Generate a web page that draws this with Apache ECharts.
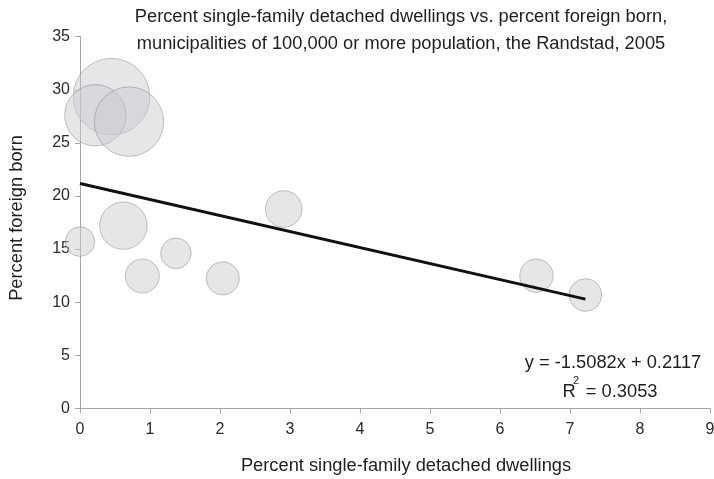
<!DOCTYPE html>
<html>
<head>
<meta charset="utf-8">
<script src="https://cdn.jsdelivr.net/npm/echarts@6/dist/echarts.min.js"></script>
<style>
html,body{margin:0;padding:0;background:#fff;}
#chart{width:714px;height:479px;}
</style>
</head>
<body>
<div id="chart"></div>
<script>
// Data
const pctDetached   = [0.45, 0.22, 0.70, 0.00, 0.62, 0.89, 1.37, 2.04, 2.91, 6.52, 7.22];
const pctForeign    = [29.35, 27.6, 27.0, 15.7, 17.2, 12.46, 14.6, 12.24, 18.77, 12.49, 10.67];
const population    = [743, 477, 610, 111, 285, 146, 119, 138, 170, 141, 135]; // thousands (bubble area)
const trendSlope    = [-1.5082];
const trendIntercept= [21.17];
const xTicks = [0, 1, 2, 3, 4, 5, 6, 7, 8, 9];
const yTicks = [0, 5, 10, 15, 20, 25, 30, 35];
const titleLines = ['Percent single-family detached dwellings vs. percent foreign born,',
                    'municipalities of 100,000 or more population, the Randstad, 2005'];
const xName = 'Percent single-family detached dwellings';
const yName = 'Percent foreign born';
const eqText = 'y = -1.5082x + 0.2117';
const r2Value = '0.3053';

const FONT = '"Liberation Sans", Arial, sans-serif';
const maxPop = Math.max(...population);
const maxDiam = 76.6;

const points = pctDetached.map((x, i) => [x, pctForeign[i], population[i]]);
const xMin = Math.min(...pctDetached), xMax = Math.max(...pctDetached);
const trend = [xMin, xMax].map(x => [x, trendSlope[0] * x + trendIntercept[0]]);

const chart = echarts.init(document.getElementById('chart'), null, {renderer: 'canvas'});
chart.setOption({
  animation: false,
  backgroundColor: '#ffffff',
  textStyle: {fontFamily: FONT},
  title: {
    text: titleLines.join('\n'),
    left: 401, top: 3, textAlign: 'center', padding: 0,
    textStyle: {fontFamily: FONT, fontSize: 18.3, fontWeight: 'normal', color: '#1e1e1e', lineHeight: 27}
  },
  grid: {left: 80, right: 4, top: 36.7, bottom: 70.7, containLabel: false, outerBoundsMode: 'none'},
  xAxis: {
    type: 'value', min: xTicks[0], max: xTicks[xTicks.length - 1], interval: 1,
    axisLine: {show: true, onZero: false, lineStyle: {color: '#a6a6a6', width: 1}},
    axisTick: {show: true, length: 5, lineStyle: {color: '#a6a6a6'}},
    splitLine: {show: false},
    axisLabel: {fontFamily: FONT, fontSize: 16, color: '#2a2a2a', margin: 13}
  },
  yAxis: {
    type: 'value', min: yTicks[0], max: yTicks[yTicks.length - 1], interval: 5,
    axisLine: {show: true, onZero: false, lineStyle: {color: '#a6a6a6', width: 1}},
    axisTick: {show: true, length: 5, lineStyle: {color: '#a6a6a6'}},
    splitLine: {show: false},
    axisLabel: {fontFamily: FONT, fontSize: 16, color: '#2a2a2a', margin: 10}
  },
  series: [
    {
      type: 'scatter',
      data: points,
      clip: false,
      symbolSize: d => maxDiam * Math.sqrt(d[2] / maxPop),
      itemStyle: {color: 'rgba(201,202,206,0.6)', borderColor: 'rgba(130,130,135,0.6)', borderWidth: 1},
      emphasis: {disabled: true},
      z: 2
    },
    {
      type: 'line',
      data: trend,
      symbol: 'none',
      lineStyle: {color: '#111', width: 3},
      emphasis: {disabled: true},
      z: 3
    }
  ],
  graphic: [
    {type: 'text', x: 17, y: 218, rotation: Math.PI / 2,
     style: {text: yName, font: '18.3px ' + FONT, fill: '#1e1e1e', align: 'center', verticalAlign: 'middle'}},
    {type: 'text', x: 406, y: 466,
     style: {text: xName, font: '18.3px ' + FONT, fill: '#1e1e1e', align: 'center', verticalAlign: 'middle'}},
    {type: 'text', x: 613, y: 363,
     style: {text: eqText, font: '18.3px ' + FONT, fill: '#1e1e1e', align: 'center', verticalAlign: 'middle'}},
    {type: 'text', x: 610, y: 392,
     style: {text: 'R  = ' + r2Value, font: '18.3px ' + FONT, fill: '#1e1e1e', align: 'center', verticalAlign: 'middle'}},
    {type: 'text', x: 576, y: 381,
     style: {text: '2', font: '11px ' + FONT, fill: '#1e1e1e', align: 'center', verticalAlign: 'middle'}}
  ]
});
</script>
</body>
</html>
